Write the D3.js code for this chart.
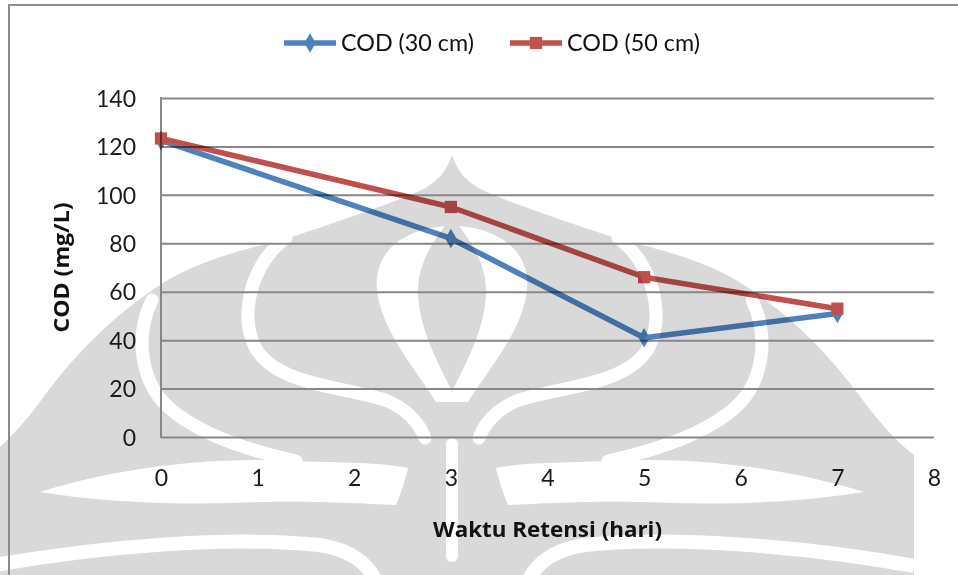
<!DOCTYPE html>
<html>
<head>
<meta charset="utf-8">
<script src="https://cdn.jsdelivr.net/npm/d3@7"></script>
<style>
  html, body { margin: 0; padding: 0; background: #ffffff; }
  svg { display: block; font-family: Lato, "Open Sans", "Liberation Sans", sans-serif; }
</style>
</head>
<body>
<svg id="chart" width="958" height="575"></svg>
<script>
// Retention time (days) and measured COD values
const days = [0, 3, 5, 7];
const cod30 = [122.5, 82, 41, 51];
const cod50 = [123.3, 95, 66, 53];
const seriesNames = ["COD (30 cm)", "COD (50 cm)"];
const yTickValues = [0, 20, 40, 60, 80, 100, 120, 140];
const xTickValues = [0, 1, 2, 3, 4, 5, 6, 7, 8];
const xTitle = "Waktu Retensi (hari)";
const yTitle = "COD (mg/L)";

const W = 958, H = 575;
const plot = { left: 161, right: 934, top: 98, bottom: 437 };
const colors = { blue: "#4F81BD", red: "#C0504D", grid: "#878787", mark: "#d9d9d9" };

const svg = d3.select("#chart");

// ---- background emblem (decorative, mirrored about its centre line) ----
const emblem = svg.append("g").attr("class", "emblem");
const cx = 452;
function half(g) {
  // outer dome
  g.append("path").attr("fill", colors.mark)
    .attr("d", "M452,155 C446,173 436,184 415,193 C385,206 330,224 283,240 C240,250 195,262 160,285 C110,318 75,355 45,395 C28,418 12,438 -10,455 L-10,580 L452,580 Z");
  // inner sweeping gap
  g.append("path").attr("fill", "none").attr("stroke", "#fff").attr("stroke-width", 13).attr("stroke-linecap", "round")
    .attr("d", "M286,238 C252,262 236,318 258,352 C282,385 340,386 385,400 C405,408 418,420 425,438");
  // outer sweeping gap
  g.append("path").attr("fill", "none").attr("stroke", "#fff").attr("stroke-width", 13).attr("stroke-linecap", "round")
    .attr("d", "M152,300 C134,337 140,386 174,412 C207,438 255,452 296,461");
  // open area below the leaf tip
  g.append("path").attr("fill", "#fff")
    .attr("d", "M40,492 C110,470 200,456 296,461 C340,463 380,462 408,468 C404,485 400,495 396,505 C350,503 300,500 230,503 C150,505 90,500 40,492 Z");
  // lowest gap
  g.append("path").attr("fill", "none").attr("stroke", "#fff").attr("stroke-width", 14)
    .attr("d", "M-10,566 C100,546 230,536 320,545 C350,550 368,562 378,585");
}
half(emblem.append("g"));
half(emblem.append("g").attr("transform", `translate(${2 * cx},0) scale(-1,1)`));
// central teardrop with its inner flame and the slit below
emblem.append("path").attr("fill", "#fff")
  .attr("d", "M452,226 C405,226 373,252 377,290 C381,330 415,368 436,402 L468,402 C489,368 523,330 527,290 C531,252 499,226 452,226 Z");
emblem.append("path").attr("fill", colors.mark)
  .attr("d", "M452,215 C440,235 419,255 418,290 C418,330 440,365 452,392 C464,365 486,330 486,290 C485,255 464,235 452,215 Z");
emblem.append("rect").attr("fill", "#fff").attr("x", 446).attr("y", 438).attr("width", 12).attr("height", 124).attr("rx", 6);

// ---- outer chart frame ----
svg.append("path").attr("fill", "none").attr("stroke", "#8c8c8c").attr("stroke-width", 2)
  .attr("d", `M9,${H + 5} L9,5 L${W + 5},5`);

// ---- scales ----
const x = d3.scaleLinear().domain([0, 8]).range([plot.left, plot.right]);
const y = d3.scaleLinear().domain([0, 140]).range([plot.bottom, plot.top]);

// horizontal gridlines
svg.append("g")
  .attr("transform", `translate(${plot.left},0)`)
  .call(d3.axisRight(y).tickValues(yTickValues).tickSize(plot.right - plot.left).tickFormat(""))
  .call(g => g.select(".domain").remove())
  .call(g => g.selectAll("line").attr("stroke", colors.grid).attr("stroke-width", 2));

// vertical axis line
svg.append("line")
  .attr("x1", plot.left).attr("x2", plot.left).attr("y1", plot.top - 1).attr("y2", plot.bottom + 1)
  .attr("stroke", colors.grid).attr("stroke-width", 2);

// y tick labels
const yAxis = svg.append("g")
  .attr("transform", `translate(${plot.left},0)`)
  .call(d3.axisLeft(y).tickValues(yTickValues).tickSize(0).tickPadding(25).tickFormat(d3.format("d")));
yAxis.select(".domain").remove();
yAxis.selectAll("text").attr("font-family", "Lato, sans-serif").attr("font-size", 23).attr("fill", "#1a1a1a").attr("dy", "0.36em");

// x tick labels (sit below the plot)
const xAxis = svg.append("g")
  .attr("transform", `translate(0,${plot.bottom})`)
  .call(d3.axisBottom(x).tickValues(xTickValues).tickSize(0).tickPadding(33).tickFormat(d3.format("d")));
xAxis.select(".domain").remove();
xAxis.selectAll("text").attr("font-family", "Lato, sans-serif").attr("font-size", 23).attr("fill", "#1a1a1a");

// axis titles
svg.append("text")
  .attr("x", (plot.left + plot.right) / 2).attr("y", 537)
  .attr("text-anchor", "middle").attr("font-family", "'Open Sans', sans-serif")
  .attr("font-weight", "bold").attr("font-size", 21.5).attr("fill", "#111")
  .attr("textLength", 229).attr("lengthAdjust", "spacingAndGlyphs")
  .text(xTitle);
svg.append("text")
  .attr("transform", `translate(69,${(plot.top + plot.bottom) / 2}) rotate(-90)`)
  .attr("text-anchor", "middle").attr("font-family", "'Open Sans', sans-serif")
  .attr("font-weight", "bold").attr("font-size", 21.5).attr("fill", "#111")
  .attr("textLength", 130).attr("lengthAdjust", "spacingAndGlyphs")
  .text(yTitle);

// ---- series ----
const line = d3.line().x(d => x(d[0])).y(d => y(d[1]));
const series = [
  { name: seriesNames[0], values: cod30, color: colors.blue, symbol: d3.symbolDiamond, size: 110 },
  { name: seriesNames[1], values: cod50, color: colors.red, symbol: d3.symbolSquare, size: 150 }
];

const seriesG = svg.append("g").style("mix-blend-mode", "multiply");
series.forEach(s => {
  const pts = days.map((d, i) => [d, s.values[i]]);
  seriesG.append("path").datum(pts)
    .attr("fill", "none").attr("stroke", s.color).attr("stroke-width", 5.5)
    .attr("stroke-linejoin", "round").attr("d", line);
  seriesG.selectAll(null).data(pts).enter().append("path")
    .attr("transform", d => `translate(${x(d[0])},${y(d[1])})`)
    .attr("d", d3.symbol().type(s.symbol).size(s.size))
    .attr("fill", s.color);
});

// ---- legend ----
const legendItems = [
  { x0: 284, s: series[0] },
  { x0: 510, s: series[1] }
];
const legendY = 43;
legendItems.forEach(it => {
  const g = svg.append("g");
  g.append("line").attr("x1", it.x0).attr("x2", it.x0 + 52).attr("y1", legendY).attr("y2", legendY)
    .attr("stroke", it.s.color).attr("stroke-width", 5.5);
  g.append("path").attr("transform", `translate(${it.x0 + 26},${legendY})`)
    .attr("d", d3.symbol().type(it.s.symbol).size(it.s.size)).attr("fill", it.s.color);
  g.append("text").attr("x", it.x0 + 57).attr("y", legendY + 8)
    .attr("font-size", 23).attr("fill", "#111")
    .attr("textLength", 133).attr("lengthAdjust", "spacingAndGlyphs")
    .text(it.s.name);
});
</script>
</body>
</html>
